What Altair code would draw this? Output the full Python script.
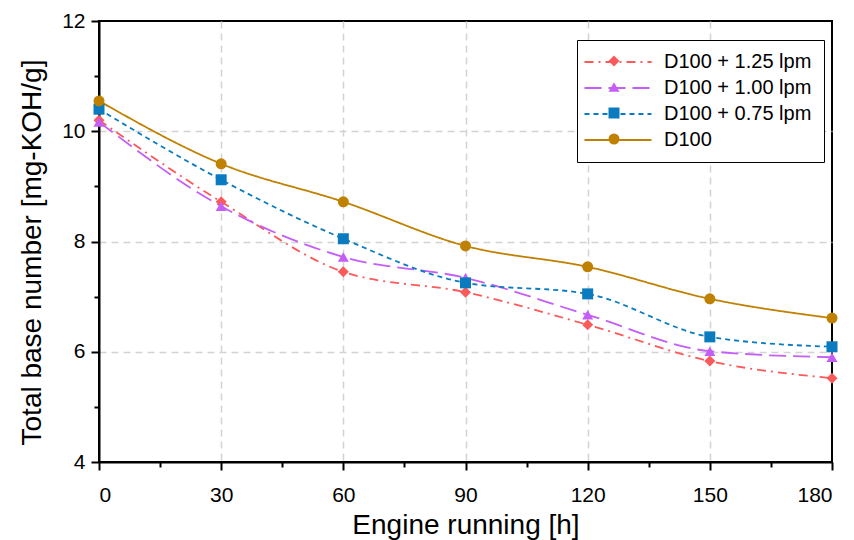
import altair as alt
import pandas as pd

hours = [0, 30, 60, 90, 120, 150, 180]
series_names = ["D100 + 1.25 lpm", "D100 + 1.00 lpm", "D100 + 0.75 lpm", "D100"]
tbn_125 = [10.20, 8.72, 7.45, 7.08, 6.49, 5.83, 5.52]
tbn_100 = [10.17, 8.64, 7.72, 7.34, 6.67, 6.01, 5.90]
tbn_075 = [10.40, 9.12, 8.05, 7.25, 7.05, 6.27, 6.09]
tbn_d100 = [10.55, 9.41, 8.72, 7.92, 7.54, 6.96, 6.61]
colors = ["#fa5a5a", "#c45ef6", "#0a7bbf", "#c08000"]
shapes = ["diamond", "triangle-up", "square", "circle"]
dashes = [[9, 5, 2, 5], [17, 7], [5, 4], [1, 0]]

# marker layer uses a twin key (trailing space) so its legend stays separate
marker_names = [n + " " for n in series_names]

rows = []
for name, mname, vals in zip(series_names, marker_names, [tbn_125, tbn_100, tbn_075, tbn_d100]):
    for h, v in zip(hours, vals):
        rows.append({"series": name, "marker": mname, "hours": h, "tbn": v})
df = pd.DataFrame(rows)

FONT = "Liberation Sans"

x_enc = alt.X(
    "hours:Q",
    scale=alt.Scale(domain=[0, 180], nice=False),
    axis=alt.Axis(
        title="Engine running [h]",
        values=list(range(0, 181, 15)),
        format="d",
        labelExpr="datum.value % 30 == 0 ? datum.label : ''",
        tickSize={"condition": {"test": "datum.value % 30 == 0", "value": 8}, "value": 5},
        gridOpacity={"condition": {"test": "datum.value % 30 == 0 && datum.value > 0 && datum.value < 180", "value": 1}, "value": 0},
        labelPadding=14,
        titleY=49,
        titleBaseline="top",
    ),
)
y_enc = alt.Y(
    "tbn:Q",
    scale=alt.Scale(domain=[4, 12], nice=False, zero=False),
    axis=alt.Axis(
        title="Total base number [mg-KOH/g]",
        values=list(range(4, 13, 1)),
        format="d",
        labelExpr="datum.value % 2 == 0 ? datum.label : ''",
        tickSize={"condition": {"test": "datum.value % 2 == 0", "value": 8}, "value": 5},
        gridOpacity={"condition": {"test": "datum.value % 2 == 0 && datum.value > 4 && datum.value < 12", "value": 1}, "value": 0},
        labelPadding=6,
        titleX=-59,
        titleY=231,
        titleBaseline="alphabetic",
        titleAngle=270,
    ),
)

line_legend = alt.Legend(
    orient="none", legendX=478, legendY=19, title=None,
    symbolType="M-2.64,0L9.55,0", symbolSize=121, symbolStrokeWidth=1.8,
    labelFont=FONT, labelFontSize=20, labelOffset=55, labelLimit=400,
    padding=12, rowPadding=6, strokeColor="black", fillColor="white",
)
marker_legend = alt.Legend(
    orient="none", legendX=497.5, legendY=22.5, title=None,
    symbolSize=121, symbolStrokeWidth=0, symbolOpacity=1,
    labelExpr="''", labelFontSize=1,
    padding=12, rowPadding=15,
)

lines = alt.Chart(df).mark_line(interpolate="monotone", strokeWidth=1.8).encode(
    x=x_enc,
    y=y_enc,
    color=alt.Color("series:N", scale=alt.Scale(domain=series_names, range=colors),
                    sort=series_names, legend=line_legend),
    strokeDash=alt.StrokeDash("series:N", scale=alt.Scale(domain=series_names, range=dashes),
                              sort=series_names, legend=line_legend),
)

points = alt.Chart(df).mark_point(filled=True, size=121, opacity=1).encode(
    x="hours:Q",
    y="tbn:Q",
    color=alt.Color("marker:N", scale=alt.Scale(domain=marker_names, range=colors),
                    sort=marker_names, legend=marker_legend),
    shape=alt.Shape("marker:N", scale=alt.Scale(domain=marker_names, range=shapes),
                    sort=marker_names, legend=marker_legend),
)

chart = (
    alt.layer(lines, points)
    .resolve_scale(color="independent", shape="independent", strokeDash="independent")
    .properties(
        width=733,
        height=441,
        autosize=alt.AutoSizeParams(type="none"),
        padding={"left": 99, "top": 21, "right": 22, "bottom": 78},
    )
    .configure_view(stroke="black", strokeWidth=2)
    .configure_axis(
        domainColor="black",
        domainWidth=2,
        tickColor="black",
        tickWidth=2,
        gridColor="#d3d3d3",
        gridDash=[7, 5],
        gridWidth=1.5,
        labelFont=FONT,
        labelFontSize=21,
        labelColor="black",
        titleFont=FONT,
        titleFontSize=28,
        titleFontWeight="normal",
        titleColor="black",
    )
    .configure_legend(labelColor="black")
)

chart.save("out.html", embed_options={"renderer": "svg", "actions": False})
